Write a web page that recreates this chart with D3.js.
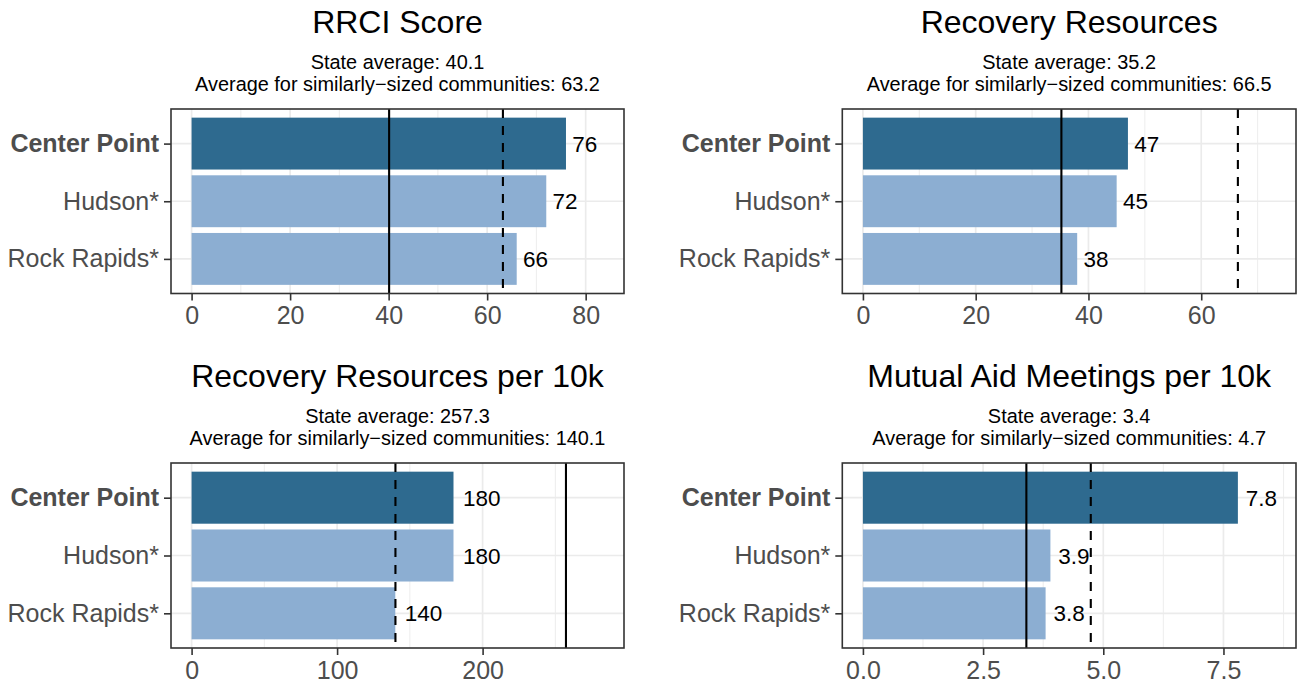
<!DOCTYPE html>
<html>
<head>
<meta charset="utf-8">
<script src="https://cdn.jsdelivr.net/npm/d3@7"></script>
<style>
  html, body { margin: 0; padding: 0; background: #ffffff; }
  svg { display: block; }
</style>
</head>
<body>
<svg id="chart" width="1297" height="683"></svg>
<script>
// ---------------- data ----------------
const communities = ["Center Point", "Hudson*", "Rock Rapids*"];
const highlighted = "Center Point";

const panelTitles = ["RRCI Score", "Recovery Resources", "Recovery Resources per 10k", "Mutual Aid Meetings per 10k"];

const rrciScore = [76, 72, 66];
const recoveryResources = [47, 45, 38];
const resourcesPer10k = [180, 180, 140];
const meetingsPer10k = [7.8, 3.9, 3.8];

const stateAverages = [40.1, 35.2, 257.3, 3.4];
const similarAverages = [63.2, 66.5, 140.1, 4.74];

const tickValues = [
  [0, 20, 40, 60, 80],
  [0, 20, 40, 60],
  [0, 100, 200],
  [0, 2.5, 5, 7.5]
];
const tickFormats = ["d", "d", "d", ".1f"];

const seriesValues = [rrciScore, recoveryResources, resourcesPer10k, meetingsPer10k];

// ---------------- layout / style ----------------
const W = 1297, H = 683;
const panelBoxes = [
  { x0: 171, x1: 624, y0: 109, y1: 293.5 },
  { x0: 842.3, x1: 1296, y0: 109, y1: 293.5 },
  { x0: 171, x1: 624, y0: 463, y1: 648 },
  { x0: 842.3, x1: 1296, y0: 463, y1: 648 }
];
const FONT = "'Liberation Sans', Arial, Helvetica, sans-serif";
const darkBlue = "#2E6A8F";
const lightBlue = "#8CAED2";
const gridColor = "#EBEBEB";
const borderColor = "#333333";
const axisTextColor = "#4D4D4D";

const svg = d3.select("#chart");
svg.append("rect").attr("width", W).attr("height", H).attr("fill", "#fff");

panelBoxes.forEach((box, i) => {
  const values = seriesValues[i];
  const stateAvg = stateAverages[i];
  const simAvg = similarAverages[i];

  const upper = 1.1 * d3.max([...values, stateAvg, simAvg]);
  const pad = 0.05 * upper;
  const x = d3.scaleLinear().domain([-pad, upper + pad]).range([box.x0, box.x1]);
  const y = d3.scalePoint().domain(communities).range([box.y0, box.y1]).padding(0.6);
  const barH = 0.9 * y.step();

  const g = svg.append("g");

  // minor grid (midpoints between major ticks)
  const ticks = tickValues[i];
  const stepT = ticks[1] - ticks[0];
  const minors = [];
  for (let t = ticks[0] - stepT / 2; t <= upper + pad; t += stepT) {
    if (t >= -pad) minors.push(t);
  }
  g.selectAll("line.minor").data(minors).join("line")
    .attr("x1", d => x(d)).attr("x2", d => x(d))
    .attr("y1", box.y0).attr("y2", box.y1)
    .attr("stroke", gridColor).attr("stroke-width", 0.9);

  // major grid x
  g.selectAll("line.majorx").data(ticks).join("line")
    .attr("x1", d => x(d)).attr("x2", d => x(d))
    .attr("y1", box.y0).attr("y2", box.y1)
    .attr("stroke", gridColor).attr("stroke-width", 1.7);
  // major grid y
  g.selectAll("line.majory").data(communities).join("line")
    .attr("x1", box.x0).attr("x2", box.x1)
    .attr("y1", d => y(d)).attr("y2", d => y(d))
    .attr("stroke", gridColor).attr("stroke-width", 1.7);

  // bars
  g.selectAll("rect.bar").data(communities).join("rect")
    .attr("x", x(0))
    .attr("y", d => y(d) - barH / 2)
    .attr("width", (d, j) => x(values[j]) - x(0))
    .attr("height", barH)
    .attr("fill", d => d === highlighted ? darkBlue : lightBlue);

  // reference lines
  g.append("line")
    .attr("x1", x(stateAvg)).attr("x2", x(stateAvg))
    .attr("y1", box.y0).attr("y2", box.y1)
    .attr("stroke", "#000").attr("stroke-width", 2.1);
  g.append("line")
    .attr("x1", x(simAvg)).attr("x2", x(simAvg))
    .attr("y1", box.y0).attr("y2", box.y1)
    .attr("stroke", "#000").attr("stroke-width", 2.1)
    .attr("stroke-dasharray", "9,8");

  // value labels (hjust ~ -0.25)
  g.selectAll("text.val").data(communities).join("text")
    .attr("y", d => y(d))
    .attr("dy", "0.36em")
    .attr("font-family", FONT)
    .attr("font-size", 22.5)
    .attr("fill", "#000")
    .text((d, j) => String(values[j]))
    .attr("x", function (d, j) {
      return x(values[j]) + 0.25 * this.getComputedTextLength();
    });

  // panel border
  g.append("rect")
    .attr("x", box.x0).attr("y", box.y0)
    .attr("width", box.x1 - box.x0).attr("height", box.y1 - box.y0)
    .attr("fill", "none").attr("stroke", borderColor).attr("stroke-width", 1.6);

  // x axis
  const xAxis = d3.axisBottom(x).tickValues(ticks)
    .tickFormat(d3.format(tickFormats[i])).tickSize(7).tickPadding(6);
  const gx = svg.append("g").attr("transform", `translate(0,${box.y1})`).call(xAxis);
  gx.select(".domain").remove();
  gx.selectAll(".tick line").attr("stroke", borderColor).attr("stroke-width", 1.6);
  gx.selectAll(".tick text").attr("fill", axisTextColor)
    .attr("font-family", FONT).attr("font-size", 25);

  // y axis
  const yAxis = d3.axisLeft(y).tickSize(7).tickPadding(5);
  const gy = svg.append("g").attr("transform", `translate(${box.x0},0)`).call(yAxis);
  gy.select(".domain").remove();
  gy.selectAll(".tick line").attr("stroke", borderColor).attr("stroke-width", 1.6);
  gy.selectAll(".tick text").attr("fill", axisTextColor)
    .attr("font-family", FONT).attr("font-size", 25)
    .attr("font-weight", d => d === highlighted ? "bold" : "normal");

  // titles
  const cx = (box.x0 + box.x1) / 2;
  svg.append("text")
    .attr("x", cx).attr("y", box.y0 - 76)
    .attr("text-anchor", "middle")
    .attr("font-family", FONT).attr("font-size", 32).attr("fill", "#000")
    .text(panelTitles[i]);
  svg.append("text")
    .attr("x", cx).attr("y", box.y0 - 40)
    .attr("text-anchor", "middle")
    .attr("font-family", FONT).attr("font-size", 19.9).attr("fill", "#000")
    .text(`State average: ${d3.format(".1f")(stateAvg)}`);
  svg.append("text")
    .attr("x", cx).attr("y", box.y0 - 18.5)
    .attr("text-anchor", "middle")
    .attr("font-family", FONT).attr("font-size", 19.9).attr("fill", "#000")
    .text(`Average for similarly\u2212sized communities: ${d3.format(".1f")(simAvg)}`);
});
</script>
</body>
</html>
